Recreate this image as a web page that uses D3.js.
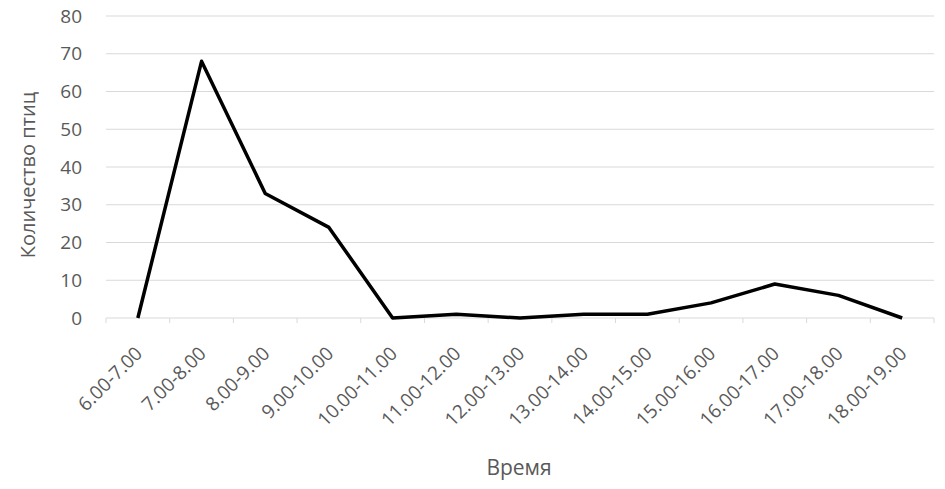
<!DOCTYPE html>
<html>
<head>
  <meta charset="utf-8">
  <title>Количество птиц по времени</title>
  <script src="https://d3js.org/d3.v7.min.js"></script>
  <style>
    body { margin: 0; background: #fff; }
    text { font-family: "Open Sans", sans-serif; fill: #595959; }
    .grid line { stroke: #d9d9d9; stroke-width: 1px; }
    .line { fill: none; stroke: #000; stroke-width: 3.5px; stroke-linejoin: round; }
  </style>
</head>
<body>
  <script>
    const categories = ["6.00-7.00", "7.00-8.00", "8.00-9.00", "9.00-10.00", "10.00-11.00",
      "11.00-12.00", "12.00-13.00", "13.00-14.00", "14.00-15.00", "15.00-16.00",
      "16.00-17.00", "17.00-18.00", "18.00-19.00"];
    const birds = [0, 68, 33, 24, 0, 1, 0, 1, 1, 4, 9, 6, 0];
    const yTicks = [0, 10, 20, 30, 40, 50, 60, 70, 80];

    const width = 945;
    const height = 489;
    const plotLeft = 106, plotRight = 934, plotTop = 16, plotBottom = 318;

    const svg = d3.select("body").append("svg")
      .attr("width", width)
      .attr("height", height);

    const x = d3.scaleBand().domain(categories).range([plotLeft, plotRight]);
    const y = d3.scaleLinear().domain([0, 80]).range([plotBottom, plotTop]);

    // horizontal gridlines
    svg.append("g").attr("class", "grid")
      .selectAll("line")
      .data(yTicks)
      .join("line")
      .attr("x1", plotLeft).attr("x2", plotRight)
      .attr("y1", d => y(d)).attr("y2", d => y(d));

    // y tick labels
    svg.append("g")
      .selectAll("text")
      .data(yTicks)
      .join("text")
      .attr("x", 82)
      .attr("y", d => y(d))
      .attr("dy", "0.35em")
      .attr("text-anchor", "end")
      .style("font-size", "19px")
      .text(d => d);

    // x axis ticks at band edges
    const edges = categories.map(c => x(c)).concat([plotRight]);
    svg.append("g").attr("class", "grid")
      .selectAll("line")
      .data(edges)
      .join("line")
      .attr("x1", d => d).attr("x2", d => d)
      .attr("y1", plotBottom).attr("y2", plotBottom + 5);

    // x labels rotated
    svg.append("g")
      .selectAll("text")
      .data(categories)
      .join("text")
      .attr("transform", d => `translate(${x(d) + x.bandwidth() / 2 + 1},${plotBottom + 32}) rotate(-45)`)
      .attr("text-anchor", "end")
      .attr("dy", "0.35em")
      .style("font-size", "19px")
      .text(d => d);

    // line
    const line = d3.line()
      .x((d, i) => x(categories[i]) + x.bandwidth() / 2)
      .y(d => y(d));

    svg.append("path")
      .datum(birds)
      .attr("class", "line")
      .attr("d", line);

    // axis titles
    svg.append("text")
      .attr("transform", `translate(35,${(plotTop + plotBottom) / 2 + 8}) rotate(-90)`)
      .attr("text-anchor", "middle")
      .style("font-size", "20px")
      .text("Количество птиц");

    svg.append("text")
      .attr("x", 519)
      .attr("y", 475)
      .attr("text-anchor", "middle")
      .style("font-size", "21px")
      .text("Время");
  </script>
</body>
</html>
